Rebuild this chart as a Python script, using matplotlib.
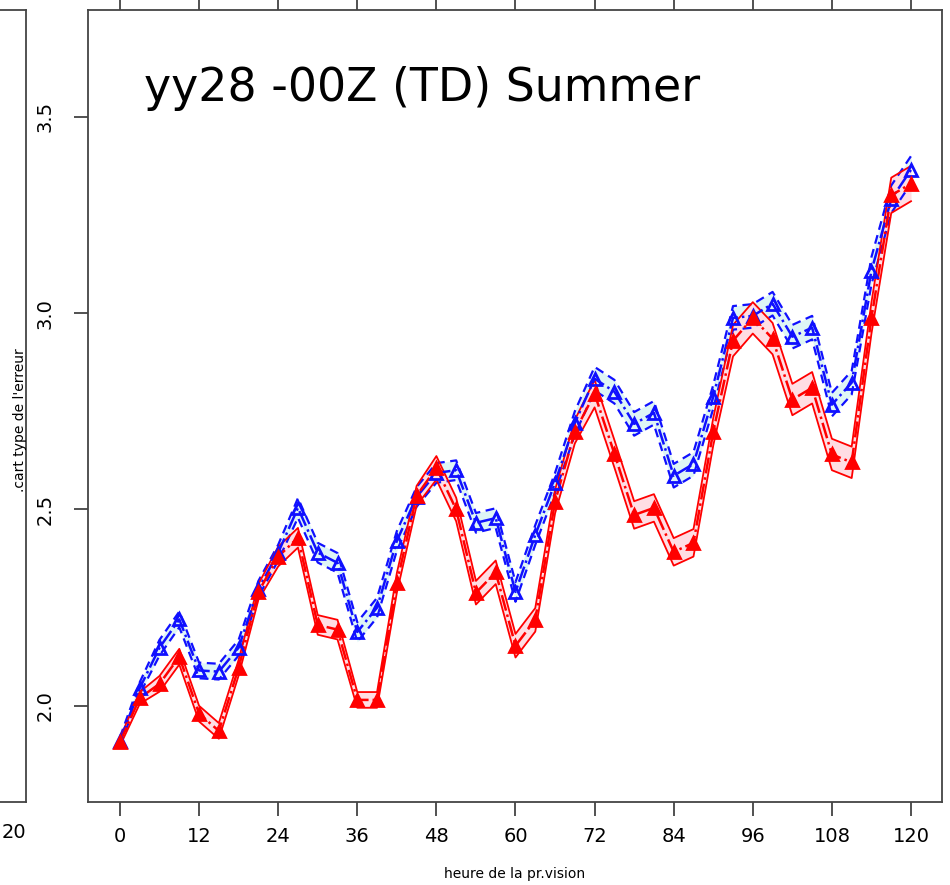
import matplotlib
matplotlib.use("Agg")
import matplotlib.pyplot as plt

# forecast lead time (hours) and error standard deviation
hours = list(range(0, 121, 3))
red_vals = [1.908, 2.02, 2.056, 2.125, 1.98, 1.936, 2.097, 2.29, 2.38, 2.428,
            2.206, 2.194, 2.015, 2.015, 2.313, 2.535, 2.606, 2.50, 2.288, 2.34,
            2.153, 2.219, 2.52, 2.698, 2.795, 2.642, 2.486, 2.504, 2.392, 2.415,
            2.698, 2.93, 2.988, 2.935, 2.78, 2.81, 2.64, 2.62, 2.988, 3.30, 3.33]
blue_vals = [1.91, 2.045, 2.148, 2.22, 2.09, 2.087, 2.148, 2.298, 2.39, 2.504,
             2.39, 2.364, 2.188, 2.25, 2.42, 2.532, 2.593, 2.60, 2.466, 2.478,
             2.29, 2.435, 2.568, 2.72, 2.833, 2.80, 2.718, 2.746, 2.586, 2.616,
             2.787, 2.988, 2.993, 3.024, 2.94, 2.963, 2.767, 2.823, 3.108, 3.29, 3.365]
# half width of the shaded confidence band
red_hw = [0.01, 0.015, 0.02, 0.02, 0.02, 0.02, 0.02, 0.02, 0.025, 0.025,
          0.025, 0.025, 0.02, 0.02, 0.025, 0.025, 0.03, 0.03, 0.03, 0.03,
          0.03, 0.03, 0.03, 0.03, 0.035, 0.035, 0.035, 0.035, 0.035, 0.035,
          0.035, 0.04, 0.04, 0.04, 0.04, 0.04, 0.04, 0.04, 0.04, 0.045, 0.045]
blue_hw = [0.01, 0.015, 0.02, 0.02, 0.02, 0.02, 0.02, 0.02, 0.02, 0.025,
           0.025, 0.025, 0.025, 0.025, 0.025, 0.025, 0.025, 0.025, 0.025, 0.025,
           0.025, 0.025, 0.025, 0.03, 0.03, 0.03, 0.03, 0.03, 0.03, 0.03,
           0.03, 0.03, 0.03, 0.03, 0.03, 0.03, 0.03, 0.03, 0.035, 0.035, 0.035]

x_ticks = list(range(0, 121, 12))
y_ticks = [2.0, 2.5, 3.0, 3.5]

plt.rcParams["font.family"] = ["Liberation Sans Narrow", "DejaVu Sans"]

fig = plt.figure(figsize=(9.5, 8.85), dpi=100)
ax = fig.add_axes([88 / 950, 1 - 802 / 885, 854 / 950, 792 / 885])

# partial neighbouring panel on the left
ax_left = fig.add_axes([-0.5, 1 - 802 / 885, 0.5 + 26 / 950, 792 / 885])
ax_left.set_xticks([])
ax_left.set_yticks([])
for sp in ax_left.spines.values():
    sp.set_color("#444444")
    sp.set_linewidth(1.3)


def draw_series(vals, hw, color, fill, edge_ls, edge_lw, marker_face):
    lo = [v - h for v, h in zip(vals, hw)]
    hi = [v + h for v, h in zip(vals, hw)]
    ax.fill_between(hours, lo, hi, color=fill, lw=0, zorder=1)
    ax.plot(hours, lo, color=color, lw=edge_lw, ls=edge_ls, zorder=2)
    ax.plot(hours, hi, color=color, lw=edge_lw, ls=edge_ls, zorder=2)
    ax.plot(hours, vals, color=color, lw=1.8, ls="-.", zorder=3)
    ax.plot(hours, vals, ls="none", marker="^", ms=8, mew=2,
            mfc=marker_face, mec=color, zorder=4)


draw_series(blue_vals, blue_hw, "#1010ff", "#def5f5", (0, (4, 2.5)), 1.6, "none")
draw_series(red_vals, red_hw, "#ff0000", "#ffdde3", "-", 1.3, "#ff0000")

ax.set_xlim(-4.85, 124.7)
ax.set_ylim(1.755, 3.772)
ax.set_xticks(x_ticks)
ax.set_yticks(y_ticks)
ax.set_yticklabels([f"{v:.1f}" for v in y_ticks], rotation=90, va="center")
ax.tick_params(axis="both", labelsize=14, length=10, width=1.2,
               color="#333333", direction="out")
ax.tick_params(axis="x", pad=8, top=True)
ax.tick_params(axis="y", pad=14)
for sp in ax.spines.values():
    sp.set_color("#444444")
    sp.set_linewidth(1.3)

ax.text(0.066, 0.885, "yy28 -00Z (TD) Summer", transform=ax.transAxes,
        fontsize=33, family="DejaVu Sans", va="baseline")

fig.text(515 / 950, 1 - 874 / 885, "heure de la pr.vision", ha="center",
         va="center", fontsize=10)
fig.text(20 / 950, 1 - 420 / 885, ".cart type de l'erreur", ha="center",
         va="center", rotation=90, fontsize=10)
fig.text(2 / 950, 1 - 833 / 885, "20", ha="left", va="center", fontsize=14)

fig.savefig("out.png", dpi=100)
